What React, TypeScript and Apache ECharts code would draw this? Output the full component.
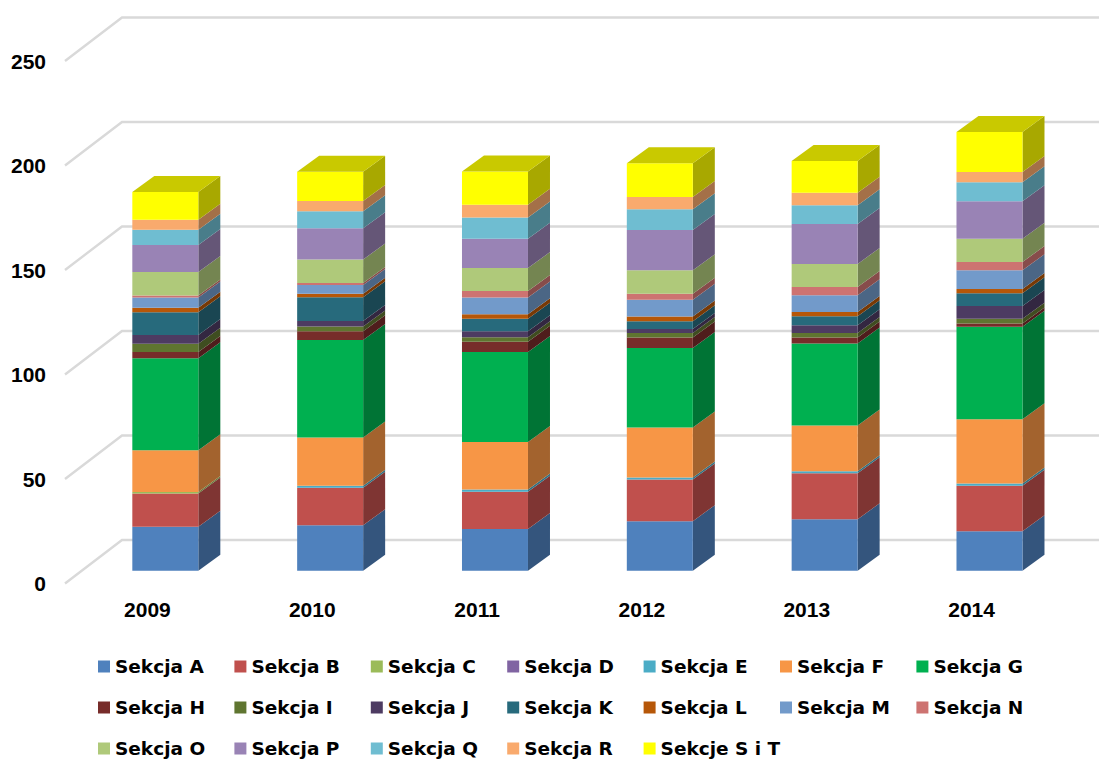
import React, { useEffect, useRef } from "react";
import * as echarts from "echarts";

const years = ["2009", "2010", "2011", "2012", "2013", "2014"];
const gridTicks = [0, 50, 100, 150, 200, 250];
const sekcjaA = [21.0, 21.8, 19.9, 23.7, 24.6, 18.9];
const sekcjaB = [15.9, 17.9, 17.9, 19.9, 22.0, 21.7];
const sekcjaC = [0.8, 0, 0, 0, 0, 0];
const sekcjaD = [0, 0, 0, 0, 0, 0];
const sekcjaE = [0, 1.0, 1.0, 1.0, 1.0, 1.1];
const sekcjaF = [19.9, 23.0, 22.8, 23.9, 21.9, 30.8];
const sekcjaG = [44.0, 46.7, 43.1, 38.1, 39.2, 44.2];
const sekcjaH = [3.0, 4.2, 4.9, 5.0, 2.9, 1.6];
const sekcjaI = [4.0, 2.2, 2.1, 2.1, 2.1, 2.2];
const sekcjaJ = [4.2, 2.7, 2.9, 1.9, 3.8, 6.1];
const sekcjaK = [10.9, 11.3, 6.0, 3.8, 4.2, 6.1];
const sekcjaL = [2.1, 1.7, 2.1, 2.2, 2.1, 2.1];
const sekcjaM = [4.9, 4.2, 8.0, 8.0, 8.0, 8.9];
const sekcjaN = [1.0, 1.0, 3.1, 2.9, 4.0, 4.0];
const sekcjaO = [11.2, 11.2, 11.0, 11.2, 11.0, 11.1];
const sekcjaP = [12.9, 15.0, 14.0, 19.3, 19.1, 18.0];
const sekcjaQ = [7.3, 8.1, 10.2, 9.9, 8.9, 9.1];
const sekcjaR = [4.8, 4.9, 6.1, 5.9, 6.0, 4.9];
const sekcjeSiT = [13.3, 14.0, 15.9, 16.1, 15.2, 19.1];

const sectionNames = [
  "Sekcja A", "Sekcja B", "Sekcja C", "Sekcja D", "Sekcja E", "Sekcja F", "Sekcja G",
  "Sekcja H", "Sekcja I", "Sekcja J", "Sekcja K", "Sekcja L", "Sekcja M", "Sekcja N",
  "Sekcja O", "Sekcja P", "Sekcja Q", "Sekcja R", "Sekcje S i T",
];
const sectionValues = [
  sekcjaA, sekcjaB, sekcjaC, sekcjaD, sekcjaE, sekcjaF, sekcjaG,
  sekcjaH, sekcjaI, sekcjaJ, sekcjaK, sekcjaL, sekcjaM, sekcjaN,
  sekcjaO, sekcjaP, sekcjaQ, sekcjaR, sekcjeSiT,
];
const sectionColors = [
  "#4F81BD", "#C0504D", "#9BBB59", "#8064A2", "#4BACC6", "#F79646", "#00B050",
  "#772C2A", "#5F7530", "#4D3B62", "#276A7C", "#B65708", "#729ACA", "#CD7371",
  "#AFC97A", "#9983B5", "#6FBDD1", "#F9AA6D", "#FFFF00",
];

const BAR_W = 66;
const BAR_SHIFT_X = 17.9;
const BAR_SHIFT_Y = -12.8;
const DEPTH_X = 22;
const DEPTH_Y = 16;

function shade(hex: string, factor: number) {
  const n = parseInt(hex.slice(1), 16);
  const r = Math.round(((n >> 16) & 255) * factor);
  const g = Math.round(((n >> 8) & 255) * factor);
  const b = Math.round((n & 255) * factor);
  return `rgb(${r},${g},${b})`;
}

export default function App() {
  const ref = useRef<HTMLDivElement>(null);
  useEffect(() => {
    const chart = echarts.init(ref.current!, undefined, { renderer: "svg" });
    const running = years.map(() => 0);
    const barSeries = sectionNames.map((name, si) => {
      const data = years.map((_, yi) => {
        const start = running[yi];
        running[yi] += sectionValues[si][yi];
        return [yi, start, running[yi]];
      });
      const color = sectionColors[si];
      const isLast = si === sectionNames.length - 1;
      return {
        type: "custom",
        name,
        coordinateSystem: "cartesian2d",
        itemStyle: { color },
        encode: { x: 0, y: [1, 2] },
        z: 3,
        data,
        renderItem: (_p: any, api: any) => {
          const low = api.coord([api.value(0), api.value(1)]);
          const high = api.coord([api.value(0), api.value(2)]);
          const x0 = low[0] + BAR_SHIFT_X - BAR_W / 2;
          const x1 = x0 + BAR_W;
          const yb = low[1] + BAR_SHIFT_Y;
          const yt = high[1] + BAR_SHIFT_Y;
          if (yb - yt < 0.01) return { type: "group", children: [] };
          const children: any[] = [
            {
              type: "polygon",
              shape: { points: [[x1, yb], [x1 + DEPTH_X, yb - DEPTH_Y], [x1 + DEPTH_X, yt - DEPTH_Y], [x1, yt]] },
              style: { fill: shade(color, 0.66) },
            },
            {
              type: "rect",
              shape: { x: x0, y: yt, width: BAR_W, height: yb - yt },
              style: { fill: color },
            },
          ];
          if (isLast) {
            children.push({
              type: "polygon",
              shape: { points: [[x0, yt], [x0 + DEPTH_X, yt - DEPTH_Y], [x1 + DEPTH_X, yt - DEPTH_Y], [x1, yt]] },
              style: { fill: shade(color, 0.79) },
            });
          }
          return { type: "group", children };
        },
      };
    });
    chart.setOption({
      animation: false,
      backgroundColor: "#ffffff",
      grid: { left: 65, width: 989, top: 61, bottom: 176.5, containLabel: false },
      xAxis: {
        type: "category",
        data: years,
        axisLine: { show: false },
        axisTick: { show: false },
        axisLabel: {
          color: "#000",
          fontFamily: "Liberation Sans",
          fontWeight: "bold",
          fontSize: 21,
          margin: 15,
        },
      },
      yAxis: {
        type: "value",
        min: 0,
        max: 250,
        interval: 50,
        splitLine: { show: false },
        axisLine: { show: false },
        axisTick: { show: false },
        axisLabel: {
          color: "#000",
          fontFamily: "Liberation Sans",
          fontWeight: "bold",
          fontSize: 21,
          margin: 19,
        },
      },
      legend: {
        left: 98,
        top: 646,
        width: 990,
        padding: 0,
        itemWidth: 12,
        itemHeight: 12,
        itemGap: 0,
        icon: "rect",
        align: "left",
        data: sectionNames,
        formatter: "{a|{name}}",
        textStyle: {
          rich: {
            a: {
              width: 119.4,
              height: 41,
              lineHeight: 41,
              color: "#000",
              fontFamily: "DejaVu Sans",
              fontWeight: "bold",
              fontSize: 18.5,
            },
          },
        },
      },
      series: [
        {
          type: "custom",
          coordinateSystem: "cartesian2d",
          z: 1,
          silent: true,
          data: gridTicks.map((t) => [0, t]),
          encode: { y: 1 },
          renderItem: (p: any, api: any) => {
            const y = api.coord([0, api.value(1)])[1];
            const x = p.coordSys.x;
            return {
              type: "polyline",
              shape: { points: [[x, y], [x + 57, y - 43.5], [1110, y - 43.5]] },
              style: { stroke: "#D9D9D9", lineWidth: 2.4, fill: "none" },
            };
          },
        },
        ...barSeries,
      ],
    });
    return () => chart.dispose();
  }, []);
  return <div ref={ref} style={{ position: "fixed", left: 0, top: 0, width: 1099, height: 760 }} />;
}
